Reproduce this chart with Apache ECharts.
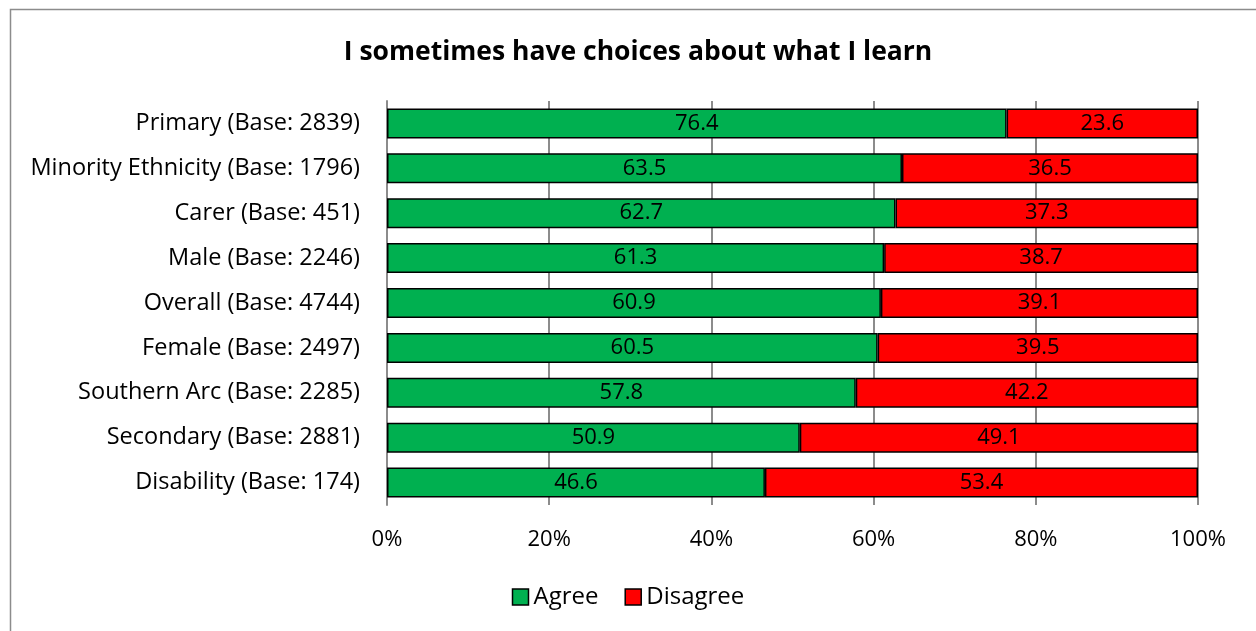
<!DOCTYPE html>
<html><head><meta charset="utf-8">
<script src="https://cdn.jsdelivr.net/npm/echarts@6/dist/echarts.min.js"></script>
<style>html,body{margin:0;padding:0;background:#fff}#c{width:1256px;height:631px}</style>
</head><body><div id="c"></div>
<script>
const categories = ["Primary (Base: 2839)","Minority Ethnicity (Base: 1796)","Carer (Base: 451)","Male (Base: 2246)","Overall (Base: 4744)","Female (Base: 2497)","Southern Arc (Base: 2285)","Secondary (Base: 2881)","Disability (Base: 174)"];
const agree = [76.4,63.5,62.7,61.3,60.9,60.5,57.8,50.9,46.6];
const disagree = [23.6,36.5,37.3,38.7,39.1,39.5,42.2,49.1,53.4];
const seriesNames = ["Agree","Disagree"];
const title = "I sometimes have choices about what I learn";

const font = "'Open Sans', 'Noto Sans', sans-serif";
const chart = echarts.init(document.getElementById('c'));
const lbl = {show:true, position:'inside', color:'#000', fontSize:22, fontFamily:font, formatter:p=>p.value.toFixed(1)};
chart.setOption({
  animation:false,
  graphic:[{type:'rect', shape:{x:10.5,y:9.5,width:1300,height:700}, style:{fill:'none', stroke:'#8c8c8c', lineWidth:1.5}, silent:true}],
  title:{text:title, left:633, top:34, textAlign:'center', textStyle:{fontFamily:font, fontSize:26.5, fontWeight:'bold', color:'#000'}},
  grid:{left:387, right:58, top:101, bottom:126, containLabel:false},
  legend:{data:seriesNames, bottom:17, left:'center', itemWidth:16, itemHeight:16, itemGap:26, icon:'rect',
    textStyle:{fontFamily:font, fontSize:24, color:'#000'}, itemStyle:{borderColor:'#000', borderWidth:1.5}},
  xAxis:{type:'value', min:0, max:100, interval:20,
    axisLabel:{formatter:'{value}%', fontFamily:font, fontSize:22, color:'#000', margin:24},
    splitLine:{show:true, lineStyle:{color:'#8c8c8c', width:2}},
    axisLine:{show:false}, axisTick:{show:false}},
  yAxis:{type:'category', data:categories, inverse:true,
    axisLabel:{fontFamily:font, fontSize:23.5, color:'#000', margin:27},
    axisLine:{show:true, lineStyle:{color:'#8c8c8c', width:2}}, axisTick:{show:false}},
  series:[
    {name:seriesNames[0], type:'bar', stack:'s', data:agree, barWidth:30, label:lbl,
      itemStyle:{color:'#00b050', borderColor:'#000', borderWidth:1.5}},
    {name:seriesNames[1], type:'bar', stack:'s', data:disagree, barWidth:30, label:lbl,
      itemStyle:{color:'#ff0000', borderColor:'#000', borderWidth:1.5}}
  ]
});
</script></body></html>
